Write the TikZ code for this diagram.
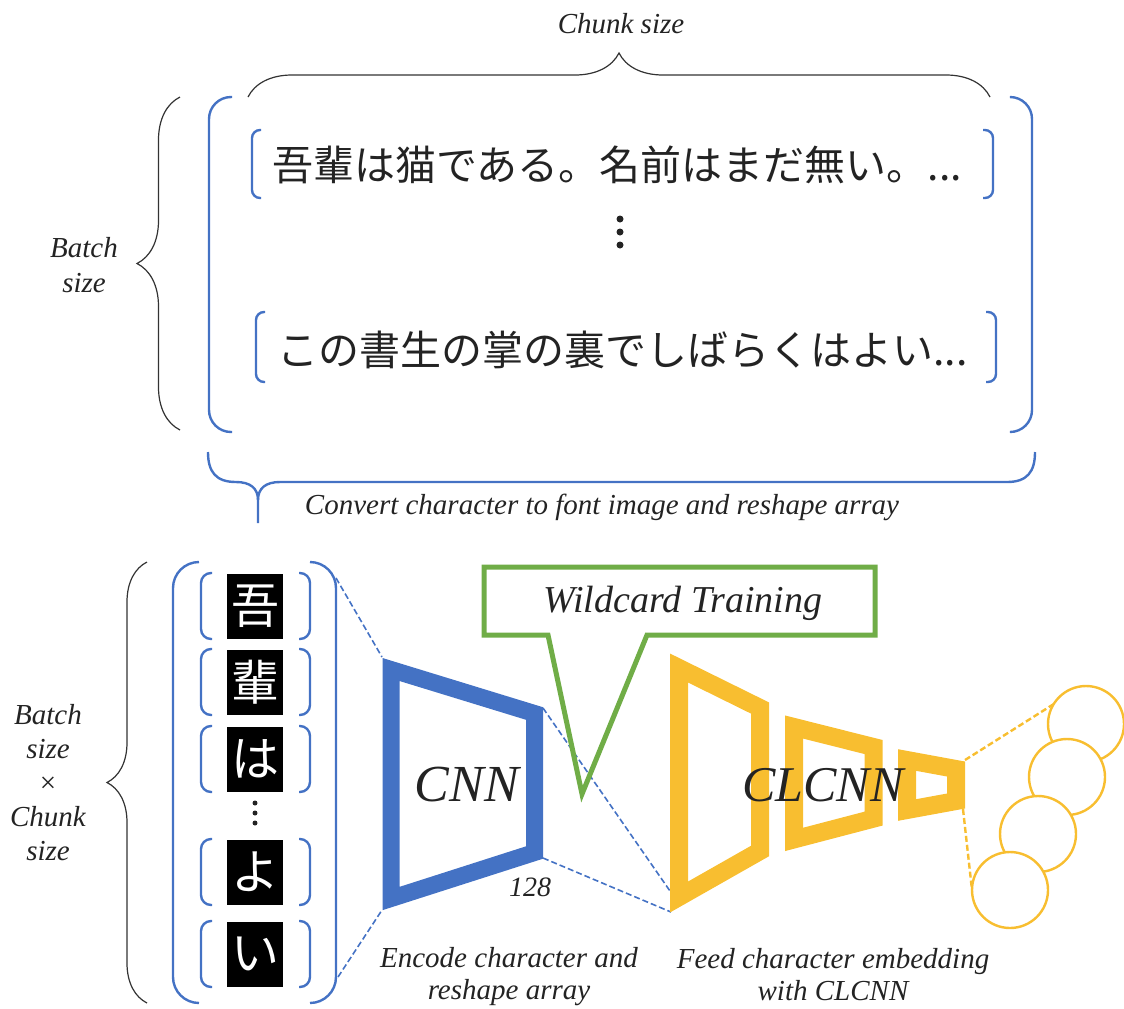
\documentclass[tikz,border=0pt]{standalone}
\usepackage{fontspec}
\setmainfont{Liberation Serif}
\newfontfamily\jpfont{Noto Sans CJK JP}
\usetikzlibrary{decorations.pathreplacing}
\definecolor{brkblue}{RGB}{68,114,196}
\definecolor{clyellow}{RGB}{248,190,48}
\definecolor{wcgreen}{RGB}{112,173,71}
\definecolor{txtgray}{RGB}{35,35,35}
\tikzset{
  lbl/.style={font=\fontsize{14.5}{16}\selectfont\itshape, text=txtgray, align=center, inner sep=0pt},
  biglbl/.style={font=\fontsize{26}{28}\selectfont\itshape, text=txtgray, inner sep=0pt},
  jprow/.style={font=\jpfont\fontsize{20.5}{24}\selectfont, text=txtgray, inner sep=0pt, anchor=west},
  charbox/.style={fill=black, text=white, minimum width=28pt, minimum height=32.5pt, inner sep=0pt, font=\jpfont\fontsize{24}{24}\selectfont},
  blkbrace/.style={decorate, draw=black!80, line width=0.6pt},
  brk/.style={draw=brkblue, line width=1.2pt},
  bluedash/.style={draw=brkblue, line width=0.8pt, dash pattern=on 3pt off 1.5pt},
  yeldash/.style={draw=clyellow, line width=1.2pt, dash pattern=on 3pt off 1.5pt},
  cnnline/.style={draw=brkblue, line width=8.5pt, line join=miter},
  clline/.style={draw=clyellow, line width=9pt, line join=miter},
  callout/.style={draw=wcgreen, line width=2.5pt, line join=miter},
  outnode/.style={circle, draw=clyellow, line width=1.2pt, fill=white, minimum size=38pt, inner sep=0pt}
}
\begin{document}
\begin{tikzpicture}[x=0.5pt, y=-0.5pt]
  \useasboundingbox (0,0) rectangle (1124,1008);
  % chunk and batch braces
  \draw[blkbrace, decoration={brace, amplitude=22pt}] (248,97) -- (990,97);
  \node[lbl] (chunk) at (621,24) {Chunk size};
  \draw[blkbrace, decoration={brace, amplitude=21.5pt}] (180,430) -- (180,97);
  \node[lbl, font=\fontsize{14.5}{17.5}\selectfont\itshape] (batch) at (84,265) {Batch\\size};
  % outer bracket pair
  \draw[brk, rounded corners=11pt] (232,97) -- (209,97) -- (209,432) -- (232,432);
  \draw[brk, rounded corners=11pt] (1011,97) -- (1032,97) -- (1032,432) -- (1011,432);
  % sentence rows
  \draw[brk, rounded corners=4pt] (261,130) -- (252,130) -- (252,198) -- (261,198);
  \draw[brk, rounded corners=4pt] (983,130) -- (993,130) -- (993,198) -- (983,198);
  \node[jprow] (row1) at (272,165) {吾輩は猫である。名前はまだ無い。...};
  \foreach \y in {219,232,245} \fill[txtgray] (620,\y) circle (3.5);
  \draw[brk, rounded corners=4pt] (265,312) -- (256,312) -- (256,382) -- (265,382);
  \draw[brk, rounded corners=4pt] (986,312) -- (996,312) -- (996,382) -- (986,382);
  \node[jprow] (row2) at (277,350) {この書生の掌の裏でしばらくはよい...};
  % blue brace with stem
  \draw[brk] (208,452) .. controls (208,472) and (216,482) .. (236,482)
    .. controls (250,482) and (258,488) .. (258,500) -- (258,523);
  \draw[brk] (258,500) .. controls (258,488) and (266,482) .. (280,482) -- (1007,482)
    .. controls (1027,482) and (1035,472) .. (1035,452);
  \node[lbl] (convert) at (602,507) {Convert character to font image and reshape array};
  % batch x chunk brace
  \draw[blkbrace, decoration={brace, amplitude=20pt}] (147,1003) -- (147,562);
  \node[lbl, font=\fontsize{14.5}{17}\selectfont\itshape] (bxc) at (48,783) {Batch\\size\\{\upshape ×}\\Chunk\\size};
  % character images
  \draw[brk, rounded corners=13pt] (199,562) -- (173,562) -- (173,1003) -- (199,1003);
  \draw[brk, rounded corners=13pt] (310,562) -- (336,562) -- (336,1003) -- (310,1003);
  \foreach \y/\ch [count=\i] in {606/吾, 682/輩, 759/は, 872/よ, 954/い} {
    \draw[brk, rounded corners=5pt] (212,\y-33) -- (201,\y-33) -- (201,\y+33) -- (212,\y+33);
    \draw[brk, rounded corners=5pt] (299,\y-33) -- (310,\y-33) -- (310,\y+33) -- (299,\y+33);
    \node[charbox] (ch\i) at (255,\y) {\ch};
  }
  \foreach \y in {803,813,823} \fill[txtgray] (255,\y) circle (2.5);
  % corner points
  \coordinate (bigR-top) at (336,578);
  \coordinate (bigR-bot) at (338,977);
  \coordinate (cnn-tl) at (382,657);
  \coordinate (cnn-bl) at (382,910);
  \coordinate (cnn-tr) at (543,708);
  \coordinate (cnn-br) at (543,858);
  \coordinate (cl-bl) at (670,891);
  \coordinate (cl-bb) at (671,912);
  \coordinate (t3-tr) at (965,760);
  \coordinate (t3-br) at (963,809);
  % dashed projections
  \draw[bluedash] (bigR-top) -- (cnn-tl);
  \draw[bluedash] (bigR-bot) -- (cnn-bl);
  \draw[bluedash] (cnn-tr) -- (cl-bl);
  \draw[bluedash] (cnn-br) -- (cl-bb);
  % CNN
  \draw[cnnline] (391,669.5) -- (534.5,713.5) -- (534.5,852.5) -- (391,898.5) -- cycle;
  \node[biglbl] (cnn) at (467,785) {CNN};
  \node[lbl, font=\fontsize{14}{16}\selectfont\itshape] (dim) at (530,887) {128};
  % wildcard callout
  \draw[callout] (484,567) -- (875,567) -- (875,635) -- (647,635) -- (582,794) -- (548,635) -- (484,635) -- cycle;
  \node[lbl, font=\fontsize{19}{21}\selectfont\itshape] (wildcard) at (683,603) {Wildcard Training};
  % CLCNN
  \draw[clline] (679,668) -- (760,708) -- (760,851) -- (679,897) -- cycle;
  \draw[clline] (794,727) -- (873.5,747) -- (873.5,818.6) -- (794,839.4) -- cycle;
  \draw[clline] (907,760) -- (956,769) -- (956,801) -- (907,810) -- cycle;
  \node[biglbl, font=\fontsize{25}{28}\selectfont\itshape] (clcnn) at (823,785) {CLCNN};
  % outputs
  \draw[yeldash] (t3-tr) -- (1057,702) coordinate (o1-in);
  \draw[yeldash] (t3-br) -- (972,890) coordinate (o4-in);
  \node[outnode] (o1) at (1086,724) {};
  \node[outnode] (o2) at (1067,777) {};
  \node[outnode] (o3) at (1038,834) {};
  \node[outnode] (o4) at (1010,890) {};
  % captions
  \node[lbl] (encode) at (509,977) {Encode character and\\reshape array};
  \node[lbl] (feed) at (833,975) {Feed character embedding\\with CLCNN};
\end{tikzpicture}
\end{document}
